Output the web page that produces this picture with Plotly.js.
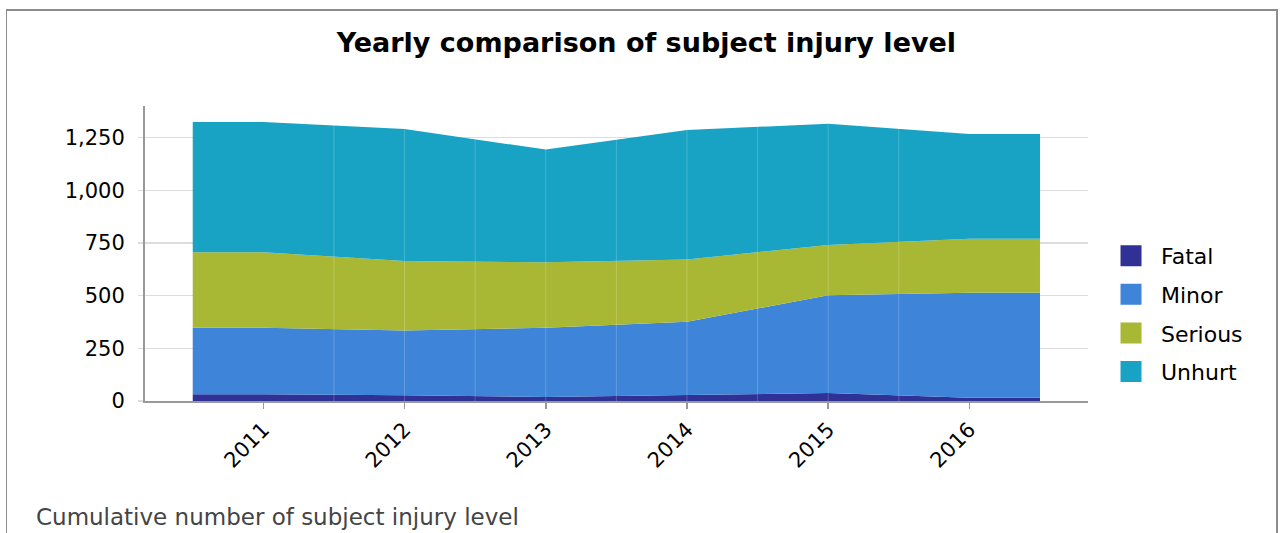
<!DOCTYPE html>
<html>
<head>
<meta charset="utf-8">
<script src="https://cdn.plot.ly/plotly-3.0.1.min.js"></script>
<style>
  html, body { margin: 0; padding: 0; background: #fff; }
  #frame { position: absolute; left: 6px; top: 9px; width: 1269px; height: 540px;
           border-left: 1.5px solid #8c8c8c; border-top: 2px solid #8c8c8c; border-right: 2px solid #8c8c8c; }
  #chart { position: absolute; left: 0; top: 0; width: 1280px; height: 533px; }
</style>
</head>
<body>
<div id="frame"></div>
<div id="chart"></div>
<script>
// ---- data ----
const years   = [2011, 2012, 2013, 2014, 2015, 2016];
const fatal   = [32, 27, 19, 28, 38, 16];
const minor   = [316, 307, 329, 348, 464, 498];
const serious = [358, 330, 310, 296, 238, 256];
const unhurt  = [618, 627, 535, 614, 576, 497];
const seriesNames = ['Fatal', 'Minor', 'Serious', 'Unhurt'];
const seriesColors = ['#2f3196', '#3e84d8', '#a9b834', '#18a2c4'];
const yTicks = [0, 250, 500, 750, 1000, 1250];

const seriesValues = [fatal, minor, serious, unhurt];
// areas extend half a category on each side (flat)
function extX(xs) { return [xs[0] - 0.5].concat(xs, [xs[xs.length - 1] + 0.5]); }
function extY(vs) { return [vs[0]].concat(vs, [vs[vs.length - 1]]); }

const traces = [];
seriesNames.forEach((name, i) => {
  traces.push({
    type: 'scatter', mode: 'lines', name: name,
    x: extX(years), y: extY(seriesValues[i]),
    stackgroup: 'one', fillcolor: seriesColors[i],
    line: { width: 0, color: seriesColors[i] },
    showlegend: false, legendgroup: name
  });
});
// legend entries (square swatches)
seriesNames.forEach((name, i) => {
  traces.push({
    type: 'scatter', mode: 'markers', name: name,
    x: [null], y: [null],
    marker: { symbol: 'square', size: 16, color: seriesColors[i], line: { width: 5, color: seriesColors[i] } },
    showlegend: true, legendgroup: name, hoverinfo: 'skip'
  });
});

// faint seams between segments
const shapes = [];
for (let i = 0; i < years.length - 1; i++) {
  const xs = i === 0 ? [years[i] + 0.5] : [years[i], years[i] + 0.5];
  xs.forEach(xv => shapes.push({
    type: 'line', xref: 'x', yref: 'paper', x0: xv, x1: xv, y0: 0, y1: 1,
    line: { color: 'rgba(255,255,255,0.2)', width: 1 }, layer: 'above'
  }));
}

const font = 'DejaVu Sans, Verdana, sans-serif';
const layout = {
  width: 1280, height: 533,
  paper_bgcolor: 'rgba(0,0,0,0)', plot_bgcolor: 'rgba(0,0,0,0)',
  margin: { l: 145, r: 192, t: 106, b: 132 },
  title: {
    text: 'Yearly comparison of subject injury level',
    font: { family: font, size: 27, color: '#000', weight: 'bold' },
    x: 0.505, xanchor: 'center', y: 0.921, yanchor: 'middle'
  },
  xaxis: {
    type: 'linear', range: [years[0] - 0.838, years[0] + 5.84],
    tickvals: years, ticktext: years.map(String), tickangle: -45,
    ticks: 'outside', ticklen: 6, tickwidth: 1.5, tickcolor: '#999',
    showline: true, linecolor: '#999', linewidth: 2,
    showgrid: false, zeroline: false,
    tickfont: { family: font, size: 21, color: '#000' }
  },
  yaxis: {
    range: [0, 1400], tickvals: yTicks, tickformat: ',d',
    ticks: 'outside', ticklen: 5, tickwidth: 1.5, tickcolor: '#dcdcdc',
    showline: true, linecolor: '#999', linewidth: 2,
    showgrid: true, gridcolor: '#dcdcdc', gridwidth: 1.5, zeroline: false,
    ticklabelstandoff: 9,
    tickfont: { family: font, size: 21, color: '#000' }
  },
  legend: {
    x: 1.0138, xanchor: 'left', y: 0.563, yanchor: 'top',
    font: { family: font, size: 22, color: '#000' },
    itemwidth: 50,
    tracegroupgap: 7, traceorder: 'grouped', bgcolor: 'rgba(0,0,0,0)'
  },
  shapes: shapes,
  annotations: [{
    text: 'Cumulative number of subject injury level',
    xref: 'paper', yref: 'paper', x: (34 - 145) / 943, y: (401 - 517) / 295,
    xanchor: 'left', yanchor: 'middle', showarrow: false,
    font: { family: font, size: 23, color: '#444' }
  }],
  showlegend: true
};

Plotly.newPlot('chart', traces, layout, { displayModeBar: false, staticPlot: true });
</script>
</body>
</html>
